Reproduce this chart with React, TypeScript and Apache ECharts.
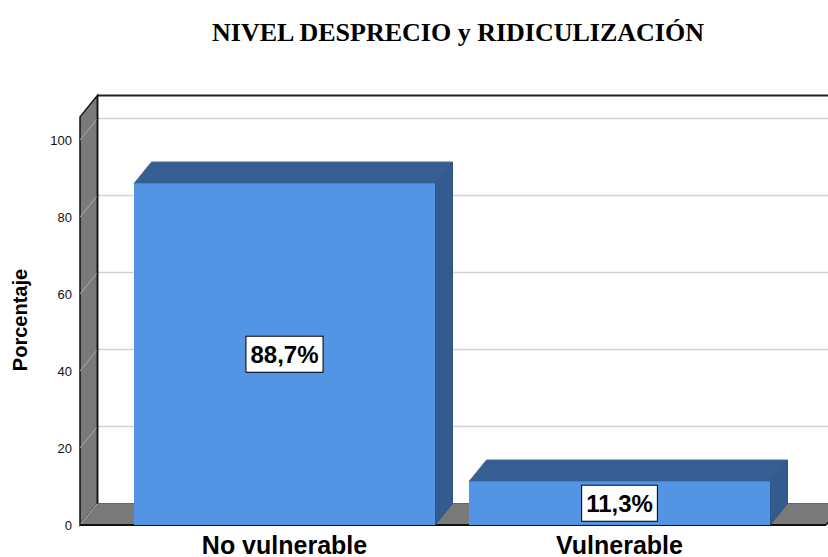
import React, { useEffect, useRef } from "react";
import * as echarts from "echarts";

const categories = ["No vulnerable", "Vulnerable"];
const values = [88.7, 11.3];
const valueLabels = ["88,7%", "11,3%"];
const yTicks = [0, 20, 40, 60, 80, 100];
const titleText = "NIVEL DESPRECIO y RIDICULIZACIÓN";
const yName = "Porcentaje";

const DX = 17.5;
const DY = -21.5;
const WALL_TOP = 106;
const BAR_RATIO = 0.8985;
const SANS = '"Liberation Sans", Arial, sans-serif';
const SERIF = '"Liberation Serif", "Times New Roman", serif';

export default function App() {
  const ref = useRef<HTMLDivElement>(null);
  useEffect(() => {
    const chart = echarts.init(ref.current!, null, { renderer: "svg" });

    const wallsItem = (params: any, api: any) => {
      const cs = params.coordSys;
      const x0 = cs.x - 37;
      const xr = cs.x + cs.width + 39;
      const xFar = cs.x + cs.width + 200;
      const y0 = api.coord([0, 0])[1];
      const yT = api.coord([0, WALL_TOP])[1];
      const children: any[] = [];
      // back wall
      children.push({
        type: "rect",
        shape: { x: x0 + DX, y: yT + DY, width: xFar - (x0 + DX), height: y0 - yT },
        style: { fill: "#ffffff" },
      });
      // grid lines on back wall
      yTicks.forEach((v) => {
        const y = api.coord([0, v])[1];
        if (v > 0) {
          children.push({
            type: "line",
            shape: { x1: x0 + DX, y1: y + DY, x2: xFar, y2: y + DY },
            style: { stroke: "#d3d3d3", lineWidth: 1.5 },
          });
        }
      });
      // left wall
      children.push({
        type: "polygon",
        shape: {
          points: [
            [x0, y0],
            [x0, yT],
            [x0 + DX, yT + DY],
            [x0 + DX, y0 + DY],
          ],
        },
        style: { fill: "#7a7a7a", stroke: "#111", lineWidth: 1.5 },
      });
      yTicks.forEach((v) => {
        const y = api.coord([0, v])[1];
        children.push({
          type: "line",
          shape: { x1: x0, y1: y, x2: x0 + DX, y2: y + DY },
          style: { stroke: "#a9a9a9", lineWidth: 1 },
        });
      });
      // back wall top edge
      children.push({
        type: "line",
        shape: { x1: x0 + DX, y1: yT + DY, x2: xFar, y2: yT + DY },
        style: { stroke: "#222", lineWidth: 2 },
      });
      // floor
      children.push({
        type: "polygon",
        shape: {
          points: [
            [x0, y0],
            [xr, y0],
            [xr + DX, y0 + DY],
            [x0 + DX, y0 + DY],
          ],
        },
        style: { fill: "#7a7a7a" },
      });
      children.push({
        type: "line",
        shape: { x1: x0 + DX, y1: y0 + DY, x2: xr + DX, y2: y0 + DY },
        style: { stroke: "#666", lineWidth: 1 },
      });
      children.push({
        type: "line",
        shape: { x1: x0, y1: y0, x2: x0 + DX, y2: y0 + DY },
        style: { stroke: "#a9a9a9", lineWidth: 1 },
      });
      children.push({
        type: "line",
        shape: { x1: xr, y1: y0, x2: xr + DX, y2: y0 + DY },
        style: { stroke: "#111", lineWidth: 1.5 },
      });
      children.push({
        type: "line",
        shape: { x1: x0, y1: y0, x2: xr, y2: y0 },
        style: { stroke: "#111", lineWidth: 2 },
      });
      children.push({
        type: "line",
        shape: { x1: x0 + DX, y1: yT + DY, x2: x0 + DX, y2: y0 + DY },
        style: { stroke: "#111", lineWidth: 1.5 },
      });
      return { type: "group", children };
    };

    const barItem = (params: any, api: any) => {
      const i = api.value(0);
      const v = api.value(1);
      const top = api.coord([i, v]);
      const bot = api.coord([i, 0]);
      const cx = top[0];
      const yt = top[1];
      const yb = bot[1];
      const w = api.size([1, 0])[0] * BAR_RATIO;
      const x0 = cx - w / 2;
      const x1 = cx + w / 2;
      return {
        type: "group",
        children: [
          {
            type: "polygon",
            shape: {
              points: [
                [x0, yt],
                [x1, yt],
                [x1 + DX, yt + DY],
                [x0 + DX, yt + DY],
              ],
            },
            style: { fill: "#365e93", stroke: "#4a6e9e", lineWidth: 1 },
          },
          {
            type: "polygon",
            shape: {
              points: [
                [x1, yt],
                [x1 + DX, yt + DY],
                [x1 + DX, yb + DY],
                [x1, yb],
              ],
            },
            style: { fill: "#345b8f", stroke: "#2f5283", lineWidth: 1 },
          },
          {
            type: "rect",
            shape: { x: x0, y: yt, width: w, height: yb - yt },
            style: { fill: "#5494e4" },
          },
          {
            type: "text",
            x: cx,
            y: (yt + yb) / 2,
            style: {
              text: valueLabels[params.dataIndex],
              font: "bold 24px " + SANS,
              fill: "#000",
              align: "center",
              verticalAlign: "middle",
              backgroundColor: "#ffffff",
              borderColor: "#000",
              borderWidth: 1,
              padding: [6, 4, 5, 4],
            },
          },
        ],
      };
    };

    chart.setOption({
      animation: false,
      grid: { left: 117, right: 41, top: 140, bottom: 32 },
      xAxis: {
        type: "category",
        data: categories,
        axisLine: { show: false },
        axisTick: { show: false },
        axisLabel: {
          margin: 7,
          fontSize: 25,
          fontWeight: "bold",
          fontFamily: SANS,
          color: "#000",
        },
        z: 10,
      },
      yAxis: {
        type: "value",
        min: 0,
        max: 100,
        interval: 20,
        axisLine: { show: false },
        axisTick: { show: false },
        splitLine: { show: false },
        axisLabel: {
          margin: 45,
          fontSize: 13,
          fontFamily: SANS,
          color: "#111",
        },
      },
      graphic: [
        {
          type: "text",
          x: 458,
          y: 32,
          style: {
            text: titleText,
            font: "bold 26px " + SERIF,
            fill: "#000",
            align: "center",
            verticalAlign: "middle",
          },
        },
        {
          type: "text",
          x: 20,
          y: 320,
          rotation: Math.PI / 2,
          style: {
            text: yName,
            font: "bold 20px " + SANS,
            fill: "#000",
            align: "center",
            verticalAlign: "middle",
          },
        },
      ],
      series: [
        {
          type: "custom",
          name: "walls",
          renderItem: wallsItem,
          data: [[0, 0]],
          clip: false,
          silent: true,
          z: 1,
        },
        {
          type: "custom",
          name: "Porcentaje",
          renderItem: barItem,
          data: values.map((v, i) => [i, v]),
          encode: { x: 0, y: 1 },
          clip: false,
          z: 2,
        },
      ],
    });
    return () => chart.dispose();
  }, []);
  return (
    <div
      ref={ref}
      style={{ position: "absolute", left: 0, top: 0, width: 828, height: 557, background: "#fff" }}
    />
  );
}
